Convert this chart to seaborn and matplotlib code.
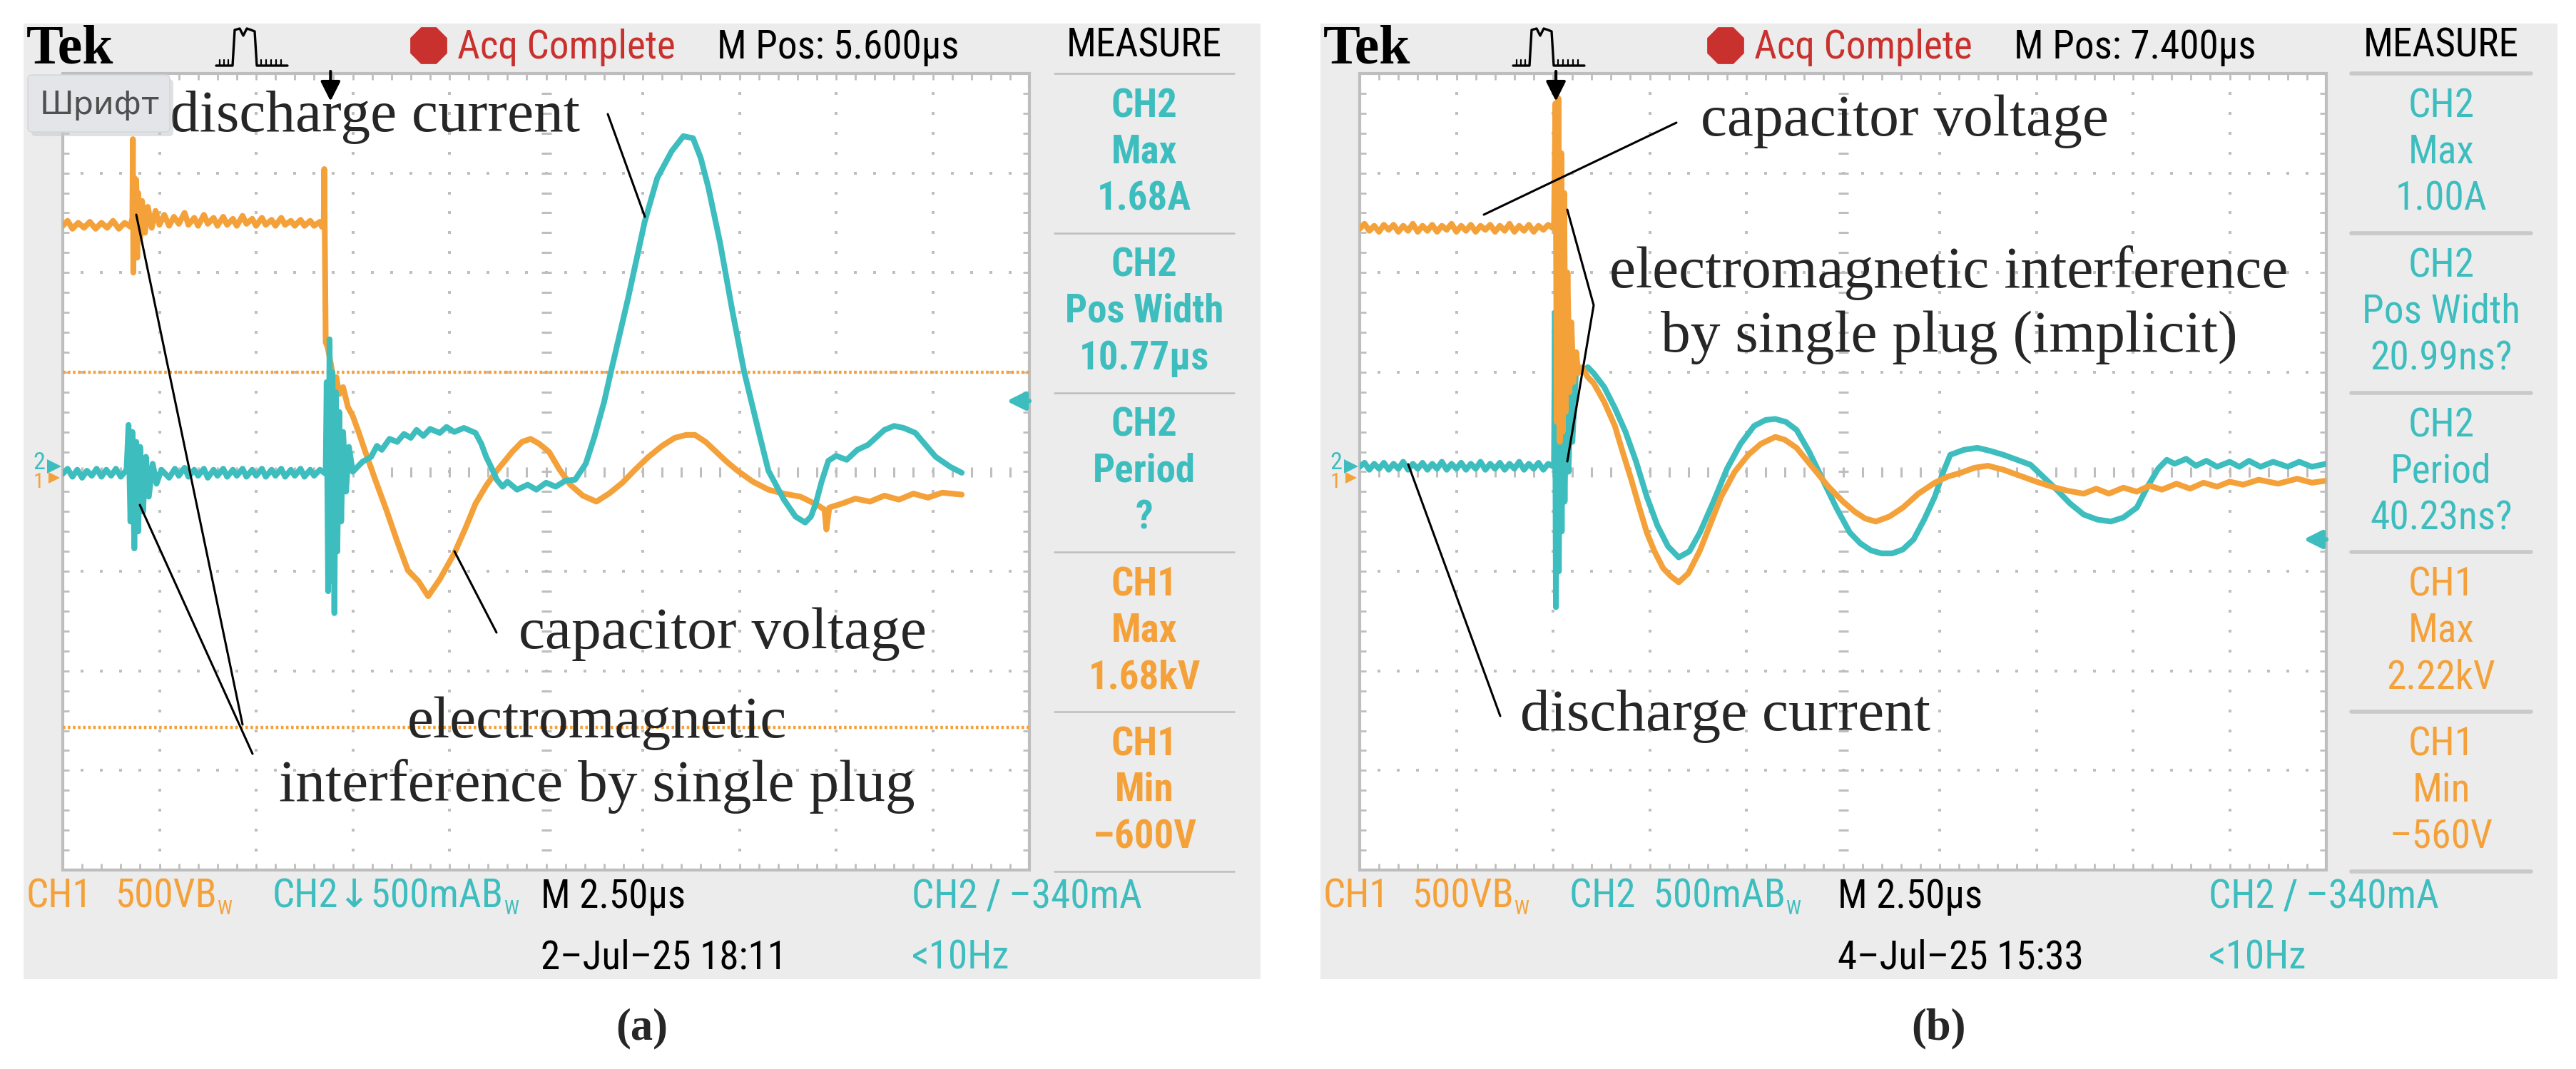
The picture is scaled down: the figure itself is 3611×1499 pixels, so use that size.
import numpy as np
import pandas as pd
import matplotlib
matplotlib.use("Agg")
import matplotlib.pyplot as plt
import seaborn as sns
from matplotlib import font_manager as fm
from matplotlib.font_manager import FontProperties
from matplotlib.patches import Rectangle, RegularPolygon, FancyBboxPatch

# ---------------------------------------------------------------- data (screen divisions)
# panel (a): CH1 = capacitor voltage (500 V/div), CH2 = discharge current (500 mA/div)
A_CH1 = [(0.00, 2.47), (0.05, 2.52), (0.10, 2.44), (0.16, 2.50), (0.22, 2.45), (0.28, 2.51), (0.34, 2.44),
         (0.40, 2.50), (0.46, 2.45), (0.52, 2.52), (0.58, 2.44), (0.64, 2.50), (0.70, 2.46), (0.72, 2.55),
         (0.725, 3.34), (0.73, 2.00), (0.74, 2.95), (0.76, 2.93), (0.77, 2.15), (0.78, 2.80), (0.80, 2.35),
         (0.82, 2.72), (0.85, 2.40), (0.88, 2.66), (0.92, 2.45), (0.96, 2.62), (1.00, 2.48), (1.05, 2.58),
         (1.10, 2.47), (1.15, 2.56), (1.20, 2.49), (1.26, 2.60), (1.30, 2.48), (1.36, 2.55), (1.40, 2.47),
         (1.46, 2.58), (1.50, 2.49), (1.56, 2.55), (1.60, 2.47), (1.66, 2.56), (1.70, 2.48), (1.76, 2.54),
         (1.80, 2.47), (1.86, 2.57), (1.90, 2.49), (1.96, 2.54), (2.00, 2.47), (2.06, 2.55), (2.10, 2.48),
         (2.16, 2.53), (2.20, 2.47), (2.26, 2.55), (2.30, 2.48), (2.36, 2.52), (2.40, 2.47), (2.46, 2.53),
         (2.50, 2.47), (2.56, 2.52), (2.60, 2.47), (2.66, 2.51), (2.68, 2.46), (2.70, 2.50), (2.705, 3.04),
         (2.71, 2.45), (2.72, 1.30), (2.74, 1.25), (2.76, 1.15), (2.78, 1.05), (2.80, 0.90), (2.83, 0.95),
         (2.86, 0.78), (2.90, 0.85), (2.95, 0.65), (3.00, 0.56), (3.06, 0.40), (3.13, 0.20), (3.24, -0.10),
         (3.35, -0.39), (3.46, -0.70), (3.57, -0.99), (3.68, -1.10), (3.78, -1.25), (3.90, -1.08),
         (4.05, -0.82), (4.16, -0.58), (4.27, -0.32), (4.38, -0.14), (4.49, 0.01), (4.65, 0.20), (4.75, 0.30),
         (4.84, 0.33), (4.93, 0.28), (5.03, 0.20), (5.14, 0.02), (5.25, -0.13), (5.38, -0.24), (5.52, -0.30),
         (5.65, -0.22), (5.79, -0.11), (5.92, 0.02), (6.06, 0.15), (6.20, 0.26), (6.33, 0.34), (6.45, 0.37),
         (6.54, 0.37), (6.65, 0.30), (6.76, 0.20), (6.87, 0.10), (6.98, 0.01), (7.14, -0.10), (7.30, -0.18),
         (7.46, -0.22), (7.63, -0.25), (7.80, -0.33), (7.88, -0.38), (7.90, -0.58), (7.93, -0.36),
         (8.06, -0.32), (8.20, -0.27), (8.35, -0.30), (8.50, -0.24), (8.65, -0.28), (8.80, -0.22),
         (8.95, -0.26), (9.10, -0.21), (9.30, -0.23)]
A_CH2 = [(0.00, -0.02), (0.05, 0.03), (0.10, -0.05), (0.15, 0.02), (0.20, -0.06), (0.25, 0.01), (0.30, -0.04),
         (0.35, 0.03), (0.40, -0.05), (0.45, 0.02), (0.50, -0.04), (0.55, 0.03), (0.60, -0.05),
         (0.66, 0.02), (0.68, 0.47), (0.70, -0.50), (0.72, 0.40), (0.74, -0.77), (0.76, 0.30), (0.78, -0.60),
         (0.80, 0.25), (0.83, -0.40), (0.86, 0.15), (0.89, -0.25), (0.93, 0.08), (0.97, -0.12), (1.02, 0.02),
         (1.10, -0.06), (1.16, 0.03), (1.20, -0.04), (1.26, 0.04), (1.30, -0.05), (1.36, 0.02), (1.40, -0.04),
         (1.46, 0.03), (1.50, -0.06), (1.56, 0.02), (1.60, -0.04), (1.66, 0.03), (1.70, -0.05), (1.76, 0.02),
         (1.80, -0.04), (1.86, 0.03), (1.90, -0.05), (1.96, 0.02), (2.00, -0.04), (2.06, 0.03), (2.10, -0.05),
         (2.16, 0.02), (2.20, -0.04), (2.26, 0.03), (2.30, -0.05), (2.36, 0.02), (2.40, -0.04), (2.46, 0.03),
         (2.50, -0.05), (2.56, 0.02), (2.60, -0.04), (2.66, 0.02), (2.72, -0.02), (2.73, 0.90), (2.745, -1.20),
         (2.76, 1.33), (2.775, -1.10), (2.79, 1.00), (2.81, -1.42), (2.825, 0.80), (2.84, -0.80), (2.86, 0.60),
         (2.88, -0.50), (2.90, 0.40), (2.93, -0.20), (2.96, 0.25), (3.00, 0.00), (3.10, 0.10), (3.19, 0.15),
         (3.25, 0.26), (3.30, 0.22), (3.38, 0.33), (3.46, 0.30), (3.53, 0.38), (3.60, 0.34), (3.66, 0.42),
         (3.73, 0.36), (3.80, 0.43), (3.90, 0.39), (3.97, 0.45), (4.05, 0.40), (4.15, 0.44), (4.27, 0.39),
         (4.33, 0.28), (4.38, 0.15), (4.44, 0.03), (4.49, -0.08), (4.55, -0.15), (4.60, -0.10), (4.70, -0.18),
         (4.81, -0.13), (4.90, -0.18), (5.00, -0.11), (5.10, -0.15), (5.20, -0.09), (5.30, -0.08), (5.41, 0.08),
         (5.50, 0.35), (5.60, 0.70), (5.67, 1.00), (5.85, 1.75), (6.02, 2.51), (6.15, 2.95), (6.30, 3.22),
         (6.42, 3.37), (6.52, 3.35), (6.60, 3.15), (6.68, 2.85), (6.80, 2.30), (6.93, 1.60), (7.05, 1.00),
         (7.19, 0.44), (7.30, 0.01), (7.46, -0.28), (7.58, -0.45), (7.68, -0.51), (7.74, -0.45), (7.79, -0.32),
         (7.85, -0.10), (7.92, 0.11), (8.00, 0.16), (8.11, 0.12), (8.22, 0.22), (8.33, 0.27), (8.50, 0.42),
         (8.60, 0.46), (8.70, 0.44), (8.82, 0.39), (9.03, 0.15), (9.18, 0.05), (9.30, -0.01)]
# panel (b)
B_CH1 = [(0.00, 2.44), (0.05, 2.49), (0.10, 2.42), (0.15, 2.47), (0.20, 2.41), (0.25, 2.48), (0.30, 2.43),
         (0.35, 2.48), (0.40, 2.41), (0.45, 2.47), (0.50, 2.42), (0.55, 2.49), (0.60, 2.41), (0.65, 2.47),
         (0.70, 2.42), (0.75, 2.48), (0.80, 2.41), (0.85, 2.47), (0.90, 2.43), (0.95, 2.49), (1.00, 2.41),
         (1.05, 2.47), (1.10, 2.42), (1.15, 2.48), (1.20, 2.41), (1.25, 2.47), (1.30, 2.43), (1.35, 2.48),
         (1.40, 2.41), (1.45, 2.47), (1.50, 2.42), (1.55, 2.49), (1.60, 2.41), (1.65, 2.47), (1.70, 2.42),
         (1.75, 2.48), (1.80, 2.41), (1.85, 2.47), (1.90, 2.43), (1.95, 2.48), (2.01, 2.44),
         (2.025, 3.70), (2.04, 0.50), (2.055, 3.75), (2.07, 0.30), (2.085, 3.20), (2.10, 0.40), (2.115, 2.80),
         (2.13, 0.60), (2.15, 2.00), (2.17, 0.80), (2.19, 1.50), (2.21, 0.90), (2.24, 1.20), (2.26, 0.99),
         (2.30, 1.05), (2.36, 0.95), (2.42, 0.89), (2.53, 0.70), (2.64, 0.46), (2.72, 0.20), (2.81, -0.08),
         (2.89, -0.35), (2.97, -0.61), (3.05, -0.80), (3.14, -0.97), (3.22, -1.05), (3.30, -1.11),
         (3.40, -1.02), (3.52, -0.79), (3.63, -0.52), (3.74, -0.25), (3.88, 0.00), (4.02, 0.17), (4.15, 0.28),
         (4.30, 0.35), (4.40, 0.32), (4.52, 0.24), (4.68, 0.05), (4.85, -0.15), (5.00, -0.30), (5.12, -0.40),
         (5.23, -0.47), (5.34, -0.50), (5.48, -0.45), (5.62, -0.36), (5.78, -0.22), (5.95, -0.11),
         (6.08, -0.05), (6.22, -0.01), (6.36, 0.04), (6.50, 0.06), (6.66, 0.02), (6.83, -0.04), (7.00, -0.10),
         (7.16, -0.15), (7.32, -0.19), (7.49, -0.22), (7.62, -0.17), (7.75, -0.22), (7.90, -0.16),
         (8.04, -0.20), (8.17, -0.14), (8.30, -0.18), (8.45, -0.12), (8.59, -0.17), (8.73, -0.11),
         (8.87, -0.15), (9.00, -0.10), (9.14, -0.13), (9.30, -0.08), (9.50, -0.12), (9.70, -0.07),
         (9.85, -0.11), (10.0, -0.09)]
B_CH2 = [(0.00, 0.05), (0.05, 0.09), (0.10, 0.02), (0.15, 0.08), (0.20, 0.03), (0.25, 0.09), (0.30, 0.02),
         (0.35, 0.08), (0.40, 0.03), (0.45, 0.10), (0.50, 0.02), (0.55, 0.08), (0.60, 0.03), (0.65, 0.09),
         (0.70, 0.02), (0.75, 0.08), (0.80, 0.03), (0.85, 0.10), (0.90, 0.02), (0.95, 0.08), (1.00, 0.03),
         (1.05, 0.09), (1.10, 0.02), (1.15, 0.08), (1.20, 0.03), (1.25, 0.10), (1.30, 0.02), (1.35, 0.08),
         (1.40, 0.03), (1.45, 0.09), (1.50, 0.02), (1.55, 0.08), (1.60, 0.03), (1.65, 0.10), (1.70, 0.02),
         (1.75, 0.08), (1.80, 0.03), (1.85, 0.09), (1.90, 0.02), (1.95, 0.08), (2.01, 0.05),
         (2.02, 1.60), (2.03, -1.36), (2.045, 1.20), (2.06, -1.00), (2.075, 1.30), (2.09, -0.60), (2.105, 1.00),
         (2.12, -0.30), (2.14, 0.90), (2.16, 0.00), (2.18, 0.80), (2.20, 0.30), (2.24, 1.05), (2.30, 1.00),
         (2.36, 1.05), (2.42, 0.99), (2.53, 0.85), (2.64, 0.64), (2.75, 0.40), (2.86, 0.10), (2.97, -0.25),
         (3.08, -0.54), (3.19, -0.75), (3.30, -0.86), (3.41, -0.80), (3.52, -0.61), (3.66, -0.30), (3.80, 0.03),
         (3.94, 0.28), (4.08, 0.46), (4.20, 0.52), (4.30, 0.53), (4.41, 0.50), (4.52, 0.42), (4.65, 0.20),
         (4.79, -0.08), (4.93, -0.36), (5.07, -0.61), (5.18, -0.72), (5.29, -0.79), (5.40, -0.82),
         (5.51, -0.82), (5.62, -0.78), (5.73, -0.68), (5.84, -0.48), (5.95, -0.25), (6.03, -0.02), (6.11, 0.17),
         (6.25, 0.22), (6.39, 0.24), (6.52, 0.21), (6.66, 0.17), (6.80, 0.12), (6.94, 0.07), (7.07, -0.05),
         (7.21, -0.18), (7.35, -0.32), (7.49, -0.43), (7.63, -0.48), (7.77, -0.50), (7.90, -0.46),
         (8.04, -0.36), (8.15, -0.15), (8.26, 0.03), (8.35, 0.12), (8.43, 0.08), (8.55, 0.13), (8.65, 0.06),
         (8.76, 0.11), (8.87, 0.05), (9.00, 0.10), (9.10, 0.05), (9.20, 0.11), (9.32, 0.05), (9.45, 0.10),
         (9.60, 0.05), (9.72, 0.10), (9.85, 0.05), (10.0, 0.08)]

A_CURSORS = [1.00, -2.57]          # CH1 horizontal cursor lines in (a)
TRIG_POS = [2.77, 2.03]            # horizontal trigger position marker (div)
TRIG_LEVEL = [0.71, -0.68]         # CH2 trigger level marker (div)

M_POS = ["M Pos: 5.600µs", "M Pos: 7.400µs"]
DATES = ["2–Jul–25 18:11", "4–Jul–25 15:33"]
CH2_SCALE = ["CH2↓500mA", "CH2  500mA"]
MEAS = [
    [("CH2", "Max", "1.68A"), ("CH2", "Pos Width", "10.77µs"), ("CH2", "Period", "?"),
     ("CH1", "Max", "1.68kV"), ("CH1", "Min", "–600V")],
    [("CH2", "Max", "1.00A"), ("CH2", "Pos Width", "20.99ns?"), ("CH2", "Period", "40.23ns?"),
     ("CH1", "Max", "2.22kV"), ("CH1", "Min", "–560V")],
]
CAPTIONS = ["(a)", "(b)"]

# ---------------------------------------------------------------- style
W, H = 3611, 1499
sns.set_theme(style="white")
plt.rcParams['font.family'] = ['DejaVu Sans']

ORANGE = "#F4A13A"
CYAN = "#3EBDBF"
SCREEN = "#ECECEC"
GRIDC = "#BEBEBE"
RED = "#C8312D"

# condensed font for the scope read-outs (with DejaVu Sans as glyph fallback)
names = {f.name for f in fm.fontManager.ttflist}
SC_FAMILY = 'Liberation Sans'
for cand in ['Liberation Sans Narrow', 'Roboto Condensed', 'Noto Sans Condensed', 'Open Sans Condensed',
             'DejaVu Sans Condensed']:
    if cand in names:
        SC_FAMILY = cand
        break

def scfont(size, bold=False):
    return FontProperties(family=[SC_FAMILY, 'DejaVu Sans'], size=size, weight='bold' if bold else 'normal')

fig = plt.figure(figsize=(W / 100, H / 100), dpi=100)
fig.patch.set_facecolor("white")

def pix_axes(z):
    a = fig.add_axes([0, 0, 1, 1], zorder=z)
    a.set_xlim(0, W)
    a.set_ylim(H, 0)
    a.axis('off')
    a.patch.set_alpha(0)
    return a

bg = pix_axes(0)
ov = pix_axes(5)
renderer = fig.canvas.get_renderer()

def text_width(s, fp):
    t = ov.text(0, 0, s, fontproperties=fp)
    w = t.get_window_extent(renderer).width
    t.remove()
    return w

def fit(s, target, bold=False):
    return 40 * target / text_width(s, scfont(40, bold))

SC = fit("M Pos: 5.600µs", 339)
SC_M = fit("Pos Width", 222)
SC_MB = fit("Pos Width", 222, bold=True)

GX0, GX1, GY0, GY1 = 88, 1443, 103, 1220
DX = [0, 1818]

def px(xd, dx):
    return dx + GX0 + xd * (GX1 - GX0) / 10.0

def py(yd):
    return (GY0 + GY1) / 2.0 - yd * (GY1 - GY0) / 8.0

SERIF = ['Liberation Serif', 'DejaVu Serif']
TRACE_LW = 5.8

for p in range(2):
    dx = DX[p]
    # screen background
    bg.add_patch(Rectangle((33 + dx, 33), 1734, 1340, facecolor=SCREEN, edgecolor='none'))
    bg.add_patch(Rectangle((GX0 + dx, GY0), GX1 - GX0, GY1 - GY0, facecolor='white', edgecolor='none'))

    ax = fig.add_axes([(GX0 + dx) / W, 1 - GY1 / H, (GX1 - GX0) / W, (GY1 - GY0) / H], zorder=2)
    ax.patch.set_alpha(0)

    # graticule
    mx = np.arange(0, 10.001, 0.2)
    my = np.arange(-4, 4.001, 0.2)
    for xv in range(1, 10):
        if xv == 5:
            continue
        ax.plot(np.full_like(my, xv), my, ls='none', marker='s', ms=2.8, mew=0, color=GRIDC)
    for yv in [-3, -2, -1, 1, 2, 3]:
        ax.plot(mx, np.full_like(mx, yv), ls='none', marker='s', ms=2.8, mew=0, color=GRIDC)
    ax.plot(np.full_like(my, 5), my, ls='none', marker='_', ms=10, mew=2.2, color=GRIDC)
    ax.plot(mx, np.zeros_like(mx), ls='none', marker='|', ms=10, mew=2.2, color=GRIDC)
    ax.plot(mx, np.full_like(mx, -4), ls='none', marker='|', ms=13, mew=2.0, color=GRIDC)
    ax.plot(mx, np.full_like(mx, 4), ls='none', marker='|', ms=13, mew=2.0, color=GRIDC)
    ax.plot(np.zeros_like(my), my, ls='none', marker='_', ms=13, mew=2.0, color=GRIDC)
    ax.plot(np.full_like(my, 10), my, ls='none', marker='_', ms=13, mew=2.0, color=GRIDC)
    ax.add_patch(Rectangle((0, -4), 10, 8, fill=False, edgecolor=GRIDC, lw=3, clip_on=False))

    if p == 0:
        for c in A_CURSORS:
            ax.axhline(c, color=ORANGE, lw=3.2, ls=(0, (0.8, 0.8)))

    ch1 = A_CH1 if p == 0 else B_CH1
    ch2 = A_CH2 if p == 0 else B_CH2
    d1 = pd.DataFrame(ch1, columns=['t', 'v'])
    d2 = pd.DataFrame(ch2, columns=['t', 'v'])
    order = [(d1, ORANGE), (d2, CYAN)] if p == 0 else [(d2, CYAN), (d1, ORANGE)]
    for d, col in order:
        sns.lineplot(data=d, x='t', y='v', ax=ax, color=col, lw=TRACE_LW, sort=False, estimator=None,
                     legend=False)
    ax.set_xlim(0, 10)
    ax.set_ylim(-4, 4)
    ax.axis('off')

    # header
    ov.text(37 + dx, 70, "Tek", family=SERIF, fontweight='bold', fontsize=56, va='center', ha='left', color='black')
    pulse_x = [303, 326, 329, 336, 341, 346, 352, 357, 360, 403]
    pulse_y = [92, 92, 42, 40, 50, 40, 42, 44, 92, 92]
    ov.plot([v + dx for v in pulse_x], pulse_y, color='black', lw=2.4)
    for tx in [308, 314, 320, 366, 373, 380, 387, 394]:
        ov.plot([tx + dx, tx + dx], [84, 92], color='black', lw=1.6)
    ov.add_patch(RegularPolygon((601 + dx, 64), numVertices=8, radius=28, orientation=np.pi / 8,
                                facecolor=RED, edgecolor='none'))
    ov.text(641 + dx, 66, "Acq Complete", fontproperties=scfont(SC), color=RED, va='center', ha='left')
    ov.text(1005 + dx, 66, M_POS[p], fontproperties=scfont(SC), color='black', va='center', ha='left')
    ov.text(1604 + dx, 64, "MEASURE", fontproperties=scfont(SC_M), color='black', va='center', ha='center')

    # measure boxes
    box_h = (1222 - 103) / 5.0
    sep_lw = 1.8 if p == 0 else 4.0
    sep_c = "#BDBDBD" if p == 0 else "#C9C9C9"
    ov.plot([1478 + dx, 1730 + dx], [103, 103], color=sep_c, lw=sep_lw)
    for k, (ch, name, val) in enumerate(MEAS[p]):
        top = 103 + k * box_h
        col = CYAN if ch == "CH2" else ORANGE
        for s, off in zip((ch, name, val), (46, 110, 176)):
            fp = scfont(SC_MB, bold=True) if p == 0 else scfont(SC_M)
            ov.text(1604 + dx, top + off, s, fontproperties=fp, color=col, ha='center', va='center')
        ov.plot([1478 + dx, 1730 + dx], [top + box_h, top + box_h], color=sep_c, lw=sep_lw)

    # bottom read-outs
    ov.text(37 + dx, 1257, "CH1", fontproperties=scfont(SC), color=ORANGE, va='center', ha='left')
    ov.text(161 + dx, 1257, "500VB", fontproperties=scfont(SC), color=ORANGE, va='center', ha='left')
    ov.text(382 + dx, 1257, CH2_SCALE[p] + "B", fontproperties=scfont(SC), color=CYAN, va='center', ha='left')
    ov.text(758 + dx, 1257, "M 2.50µs", fontproperties=scfont(SC), color='black', va='center', ha='left')
    ov.text(1278 + dx, 1257, "CH2 ∕ –340mA", fontproperties=scfont(SC), color=CYAN, va='center', ha='left')
    ov.text(758 + dx, 1343, DATES[p], fontproperties=scfont(SC), color='black', va='center', ha='left')
    ov.text(1278 + dx, 1343, "<10Hz", fontproperties=scfont(SC), color=CYAN, va='center', ha='left')
    w1 = text_width("500VB", scfont(SC))
    w2 = text_width(CH2_SCALE[p] + "B", scfont(SC))
    ov.text(161 + dx + w1, 1274, "W", fontproperties=scfont(SC * 0.5), color=ORANGE, va='center', ha='left')
    ov.text(382 + dx + w2, 1274, "W", fontproperties=scfont(SC * 0.5), color=CYAN, va='center', ha='left')

    # ground markers (left) and trigger markers
    ov.text(46 + dx, py(0) - 13, "2", fontproperties=scfont(SC * 0.62), color=CYAN, va='center', ha='left')
    ov.text(47 + dx, py(0) + 14, "1", fontproperties=scfont(SC * 0.55), color=ORANGE, va='center', ha='left')
    ov.plot([76 + dx], [py(0) - 8], marker='>', ms=15, color=CYAN, mew=0)
    ov.plot([76 + dx], [py(0) + 8], marker='>', ms=12, color=ORANGE, mew=0)
    xt = px(TRIG_POS[p], dx)
    ov.annotate('', xy=(xt, 142), xytext=(xt, 100),
                arrowprops=dict(arrowstyle='-|>', color='black', lw=3, mutation_scale=42, shrinkA=0, shrinkB=0))
    yl = py(TRIG_LEVEL[p])
    ov.annotate('', xy=(GX1 + dx - 32, yl), xytext=(GX1 + dx, yl),
                arrowprops=dict(arrowstyle='-|>', color=CYAN, lw=4.5, mutation_scale=38, shrinkA=0, shrinkB=0))

    # caption
    ov.text(900 + dx, 1442, CAPTIONS[p], family=SERIF, fontweight='bold', fontsize=45, ha='center', va='center')

# ---------------------------------------------------------------- annotations
ANN_FS = 60
LW = 2.2
# (a)
ov.text(813, 184, "discharge current", family=SERIF, fontsize=ANN_FS, ha='right', va='baseline')
ov.plot([852, 904], [160, 304], color='black', lw=LW)
ov.text(727, 909, "capacitor voltage", family=SERIF, fontsize=ANN_FS, ha='left', va='baseline')
ov.plot([637, 696], [773, 887], color='black', lw=LW)
ov.text(837, 1034, "electromagnetic", family=SERIF, fontsize=ANN_FS, ha='center', va='baseline')
ov.text(837, 1123, "interference by single plug", family=SERIF, fontsize=ANN_FS, ha='center', va='baseline')
ov.plot([191, 340], [301, 1016], color='black', lw=LW)
ov.plot([196, 354], [708, 1057], color='black', lw=LW)
# (b)
ov.text(2384, 190, "capacitor voltage", family=SERIF, fontsize=ANN_FS, ha='left', va='baseline')
ov.plot([2350, 2080], [172, 301], color='black', lw=LW)
ov.text(2732, 403, "electromagnetic interference", family=SERIF, fontsize=ANN_FS, ha='center', va='baseline')
ov.text(2732, 493, "by single plug (implicit)", family=SERIF, fontsize=ANN_FS, ha='center', va='baseline')
ov.plot([2197, 2234, 2197], [294, 428, 647], color='black', lw=LW)
ov.text(2131, 1024, "discharge current", family=SERIF, fontsize=ANN_FS, ha='left', va='baseline')
ov.plot([1974, 2103], [651, 1004], color='black', lw=LW)

# tooltip box from the screenshot
ov.add_patch(FancyBboxPatch((44, 111), 199, 80, boxstyle="round,pad=0,rounding_size=6",
                            facecolor="#C8CACD", edgecolor='none', alpha=0.55, zorder=6))
ov.add_patch(FancyBboxPatch((39, 105), 199, 80, boxstyle="round,pad=0,rounding_size=6",
                            facecolor="#E3E5E8", edgecolor='#D3D5D8', lw=1, zorder=7))
ov.text(140, 147, "Шрифт", family=['DejaVu Sans'], fontsize=32, color="#4F4F4F", ha='center', va='center', zorder=8)

fig.savefig("out.png", dpi=100, facecolor='white')
